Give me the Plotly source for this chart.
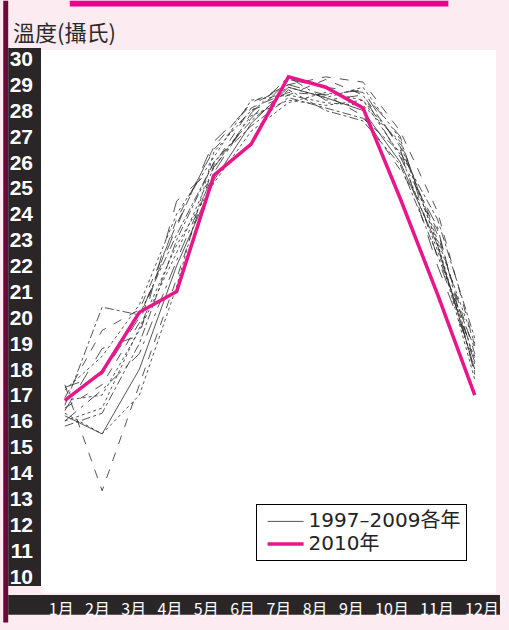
import plotly.graph_objects as go

months = [1, 2, 3, 4, 5, 6, 7, 8, 9, 10, 11, 12]
month_labels = ["1月", "2月", "3月", "4月", "5月", "6月", "7月", "8月", "9月", "10月", "11月", "12月"]
y_ticks = list(range(10, 31))

past_years = {
    "1997": [16.2, 15.5, 18.0, 22.0, 25.3, 27.5, 28.9, 28.5, 28.0, 26.0, 22.8, 18.0],
    "1998": [16.5, 17.4, 19.8, 23.8, 26.5, 28.0, 28.6, 29.2, 28.6, 26.6, 23.2, 18.6],
    "1999": [16.8, 17.0, 19.5, 22.5, 25.8, 27.8, 28.4, 28.2, 28.4, 26.3, 22.6, 18.4],
    "2000": [15.8, 16.3, 19.0, 23.0, 26.0, 27.6, 28.8, 28.0, 27.6, 25.9, 22.4, 18.8],
    "2001": [17.3, 17.8, 20.0, 23.5, 26.8, 28.2, 29.0, 28.6, 28.8, 26.5, 22.0, 18.3],
    "2002": [17.2, 18.5, 20.5, 24.0, 26.2, 28.4, 28.6, 28.3, 28.2, 26.8, 23.0, 19.0],
    "2003": [16.0, 17.2, 18.6, 22.2, 25.6, 27.9, 29.3, 28.4, 28.6, 26.2, 23.5, 17.8],
    "2004": [17.4, 13.3, 17.4, 21.5, 25.9, 28.1, 28.7, 28.6, 27.8, 25.7, 23.4, 18.2],
    "2005": [16.3, 15.5, 17.0, 21.2, 26.4, 28.0, 28.9, 28.5, 28.9, 26.9, 22.8, 17.6],
    "2006": [16.6, 20.4, 20.1, 23.2, 26.0, 27.4, 28.5, 28.1, 27.7, 26.4, 23.8, 19.2],
    "2007": [16.4, 18.8, 19.3, 24.5, 25.8, 27.7, 29.2, 28.9, 28.7, 27.0, 22.3, 18.5],
    "2008": [16.0, 16.5, 19.6, 22.8, 25.2, 27.2, 28.3, 28.7, 28.4, 26.7, 22.9, 17.9],
    "2009": [16.9, 19.5, 20.3, 23.6, 26.6, 28.3, 29.0, 29.3, 29.1, 27.2, 24.1, 18.9],
}
temps_2010 = [16.8, 17.9, 20.2, 21.0, 25.5, 26.7, 29.3, 28.9, 28.1, 24.6, 20.9, 17.0]

dashes = ["solid", "dash", "dot", "dashdot", "longdash", "dot", "longdashdot",
          "dash", "dot", "dashdot", "longdash", "dot", "dash"]

W, H = 509, 630
L, R, T, B = 41, 10, 50, 30
pw, ph = W - L - R, H - T - B

def px(x):
    return (x - L) / pw

def py(y):
    return (H - B - y) / ph

# month labels are laid out like a spaced text row under the chart
LABEL_FONT = 16
DIGIT_W = 0.55 * LABEL_FONT
GAP = 11.7
label_pos = []
cursor = 49.0
for lab in month_labels:
    w = DIGIT_W * (len(lab) - 1) + LABEL_FONT
    label_pos.append(cursor + w / 2)
    cursor += w + GAP

def legend_text(text):
    # legend text set larger than the (compact) legend row height
    return '<span style="font-size:20px">%s</span>' % text

fig = go.Figure()
for i, (yr, vals) in enumerate(past_years.items()):
    fig.add_trace(go.Scatter(
        x=months, y=vals, mode="lines",
        line=dict(color="#2b2b2b", width=0.8, dash=dashes[i]),
        name=legend_text("1997–2009各年"), legendgroup="past",
        showlegend=(i == 0), hoverinfo="skip",
    ))
fig.add_trace(go.Scatter(
    x=months, y=temps_2010, mode="lines",
    line=dict(color="#e8168a", width=3.5),
    name=legend_text("2010年"),
))
fig.add_trace(go.Scatter(x=[], y=[], xaxis="x2", mode="none", showlegend=False, hoverinfo="skip"))

shapes = [
    dict(type="rect", xref="paper", yref="paper", x0=px(70), x1=px(451), y0=py(6), y1=py(0),
         fillcolor="#ec008c", line_width=0, layer="below"),
    dict(type="rect", xref="paper", yref="paper", x0=px(3), x1=px(8), y0=py(630), y1=py(0),
         fillcolor="#6a0a38", line_width=0, layer="below"),
    dict(type="rect", xref="paper", yref="paper", x0=px(8), x1=px(41), y0=py(593), y1=py(48),
         fillcolor="#2a2627", line_width=0, layer="below"),
    dict(type="rect", xref="paper", yref="paper", x0=px(8), x1=px(503), y0=py(622), y1=py(602),
         fillcolor="#2a2627", line_width=0, layer="below"),
]

fig.update_layout(
    width=W, height=H,
    margin=dict(l=L, r=R, t=T, b=B),
    paper_bgcolor="#fdebf2",
    plot_bgcolor="#ffffff",
    shapes=shapes,
    font=dict(family="Noto Sans CJK TC, Liberation Sans, sans-serif", color="#222"),
    xaxis=dict(
        range=[0.36, 12.57], showticklabels=False,
        showgrid=False, zeroline=False, showline=False, ticks="",
    ),
    xaxis2=dict(
        overlaying="x", anchor="y", side="bottom", range=[L, W - R],
        tickvals=label_pos, ticktext=month_labels,
        showgrid=False, zeroline=False, showline=False, ticks="",
        tickfont=dict(size=LABEL_FONT, color="#ffffff", family="Noto Sans CJK TC"),
        ticklabelstandoff=5,
    ),
    yaxis=dict(
        range=[9.35, 30.34], tickvals=y_ticks,
        showgrid=False, zeroline=False, showline=False, ticks="",
        tickfont=dict(size=21, color="#ffffff", family="Liberation Sans", weight="bold"),
        ticklabelstandoff=7,
    ),
    legend=dict(
        x=px(257), y=py(510), xanchor="left", yanchor="top",
        bgcolor="#ffffff", bordercolor="#000000", borderwidth=1,
        font=dict(size=15, color="#222", family="DejaVu Sans, Noto Sans CJK TC"),
        tracegroupgap=0, indentation=6, itemwidth=36,
    ),
    annotations=[
        dict(text="溫度(攝氏)", xref="paper", yref="paper", x=px(11), y=py(31),
             xanchor="left", yanchor="middle", showarrow=False,
             font=dict(size=22, color="#2a2a2a", family="Noto Sans CJK TC")),
    ],
    showlegend=True,
)

fig.write_html(
    "out.html",
    config={"displayModeBar": False},
    post_script="document.body.style.margin='0';document.body.style.background='#fdebf2';",
)
